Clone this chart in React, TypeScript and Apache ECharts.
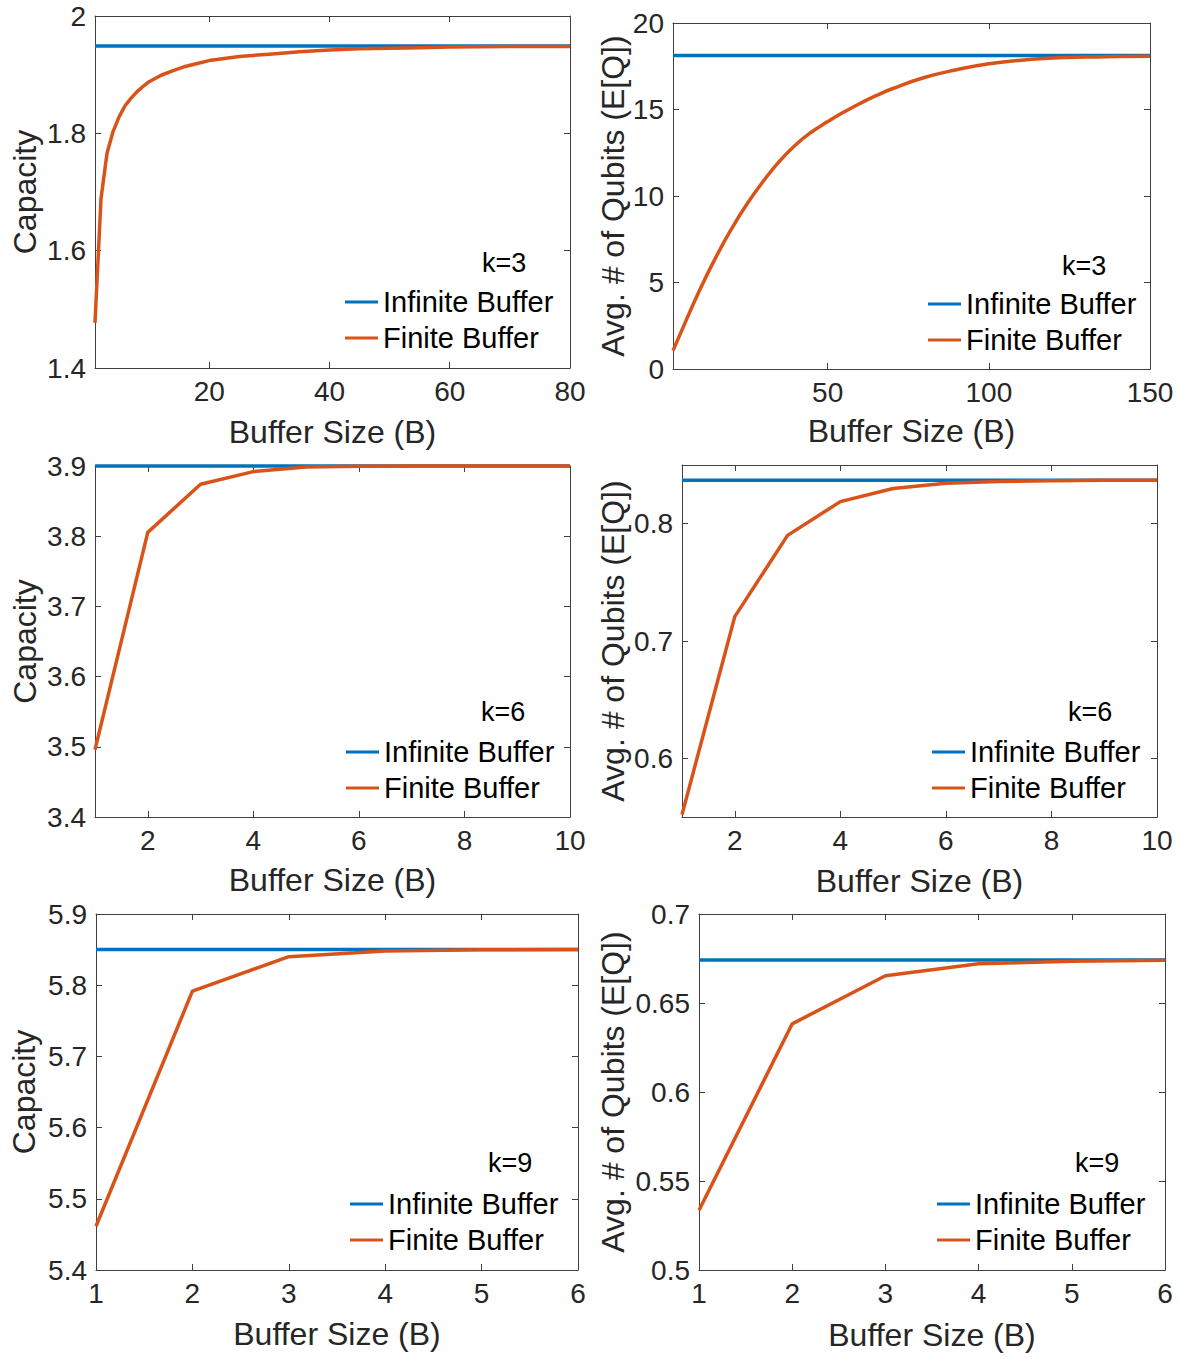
import React, { useEffect, useRef } from "react";
import * as echarts from "echarts";

const FONT = "'Liberation Sans', Arial, Helvetica, sans-serif";
const BLUE = "#0072BD";
const ORANGE = "#D95319";
const AXIS = "#404040";
const TEXT = "#262626";

const SERIES_NAMES = ["Infinite Buffer", "Finite Buffer"];
const X_LABEL = "Buffer Size (B)";
const Y_LABEL_CAP = "Capacity";
const Y_LABEL_Q = "Avg. # of Qubits (E[Q])";

// Panel 1: k=3, capacity
const p1B = [1, 2, 3, 4, 5, 6, 7, 8, 9, 10, 12, 14, 16, 18, 20, 25, 30, 35, 40, 45, 50, 55, 60, 70, 80];
const p1Finite = [1.477, 1.689, 1.766, 1.803, 1.828, 1.847, 1.86, 1.871, 1.88, 1.888, 1.899, 1.907, 1.914, 1.919, 1.924, 1.931, 1.935, 1.939, 1.942, 1.944, 1.945, 1.946, 1.947, 1.948, 1.948];
const p1Infinite = 1.949;
const p1XTicks = [20, 40, 60, 80];
const p1YTicks = [1.4, 1.6, 1.8, 2];

// Panel 2: k=3, avg qubits
const p2B = [2, 5, 10, 15, 20, 25, 30, 35, 40, 45, 50, 55, 60, 65, 70, 80, 90, 100, 110, 120, 130, 140, 150];
const p2Finite = [1.06, 2.35, 4.45, 6.35, 8.05, 9.55, 10.85, 12.0, 12.95, 13.7, 14.3, 14.85, 15.35, 15.8, 16.2, 16.85, 17.3, 17.65, 17.85, 17.97, 18.03, 18.06, 18.08];
const p2Infinite = 18.12;
const p2XTicks = [50, 100, 150];
const p2YTicks = [0, 5, 10, 15, 20];

// Panel 3: k=6, capacity
const p3B = [1, 2, 3, 4, 5, 6, 7, 8, 9, 10];
const p3Finite = [3.496, 3.8055, 3.874, 3.892, 3.8986, 3.8997, 3.9, 3.9, 3.9, 3.9];
const p3Infinite = 3.9;
const p3XTicks = [2, 4, 6, 8, 10];
const p3YTicks = [3.4, 3.5, 3.6, 3.7, 3.8, 3.9];

// Panel 4: k=6, avg qubits
const p4B = [1, 2, 3, 4, 5, 6, 7, 8, 9, 10];
const p4Finite = [0.552, 0.7208, 0.79, 0.8188, 0.83, 0.8345, 0.836, 0.8365, 0.837, 0.837];
const p4Infinite = 0.837;
const p4XTicks = [2, 4, 6, 8, 10];
const p4YTicks = [0.6, 0.7, 0.8];

// Panel 5: k=9, capacity
const p5B = [1, 2, 3, 4, 5, 6];
const p5Finite = [5.4614, 5.7917, 5.84, 5.848, 5.8497, 5.85];
const p5Infinite = 5.85;
const p5XTicks = [1, 2, 3, 4, 5, 6];
const p5YTicks = [5.4, 5.5, 5.6, 5.7, 5.8, 5.9];

// Panel 6: k=9, avg qubits
const p6B = [1, 2, 3, 4, 5, 6];
const p6Finite = [0.5336, 0.6383, 0.6653, 0.672, 0.6735, 0.674];
const p6Infinite = 0.6741;
const p6XTicks = [1, 2, 3, 4, 5, 6];
const p6YTicks = [0.5, 0.55, 0.6, 0.65, 0.7];

const panels = [
  { b: p1B, fin: p1Finite, inf: p1Infinite, xMin: 1, xMax: 80, yMin: 1.4, yMax: 2, xTicks: p1XTicks, yTicks: p1YTicks, yName: Y_LABEL_CAP, k: "k=3", smooth: false,
    grid: { left: 95, top: 16, width: 475, height: 352 }, yGap: 54, xGap: 48, legend: [345, 284], kPos: [482, 263] },
  { b: p2B, fin: p2Finite, inf: p2Infinite, xMin: 2, xMax: 150, yMin: 0, yMax: 20, xTicks: p2XTicks, yTicks: p2YTicks, yName: Y_LABEL_Q, k: "k=3", smooth: true,
    grid: { left: 673, top: 23, width: 477, height: 346 }, yGap: 44, xGap: 46, legend: [928, 286], kPos: [1062, 266] },
  { b: p3B, fin: p3Finite, inf: p3Infinite, xMin: 1, xMax: 10, yMin: 3.4, yMax: 3.9, xTicks: p3XTicks, yTicks: p3YTicks, yName: Y_LABEL_CAP, k: "k=6", smooth: false,
    grid: { left: 95, top: 466, width: 475, height: 351 }, yGap: 54, xGap: 47, legend: [346, 734], kPos: [481, 712] },
  { b: p4B, fin: p4Finite, inf: p4Infinite, xMin: 1, xMax: 10, yMin: 0.55, yMax: 0.85, xTicks: p4XTicks, yTicks: p4YTicks, yName: Y_LABEL_Q, k: "k=6", smooth: false,
    grid: { left: 682, top: 465, width: 475, height: 352 }, yGap: 53, xGap: 48, legend: [932, 734], kPos: [1068, 712] },
  { b: p5B, fin: p5Finite, inf: p5Infinite, xMin: 1, xMax: 6, yMin: 5.4, yMax: 5.9, xTicks: p5XTicks, yTicks: p5YTicks, yName: Y_LABEL_CAP, k: "k=9", smooth: false,
    grid: { left: 96, top: 914, width: 482, height: 356 }, yGap: 56, xGap: 48, legend: [350, 1186], kPos: [488, 1163] },
  { b: p6B, fin: p6Finite, inf: p6Infinite, xMin: 1, xMax: 6, yMin: 0.5, yMax: 0.7, xTicks: p6XTicks, yTicks: p6YTicks, yName: Y_LABEL_Q, k: "k=9", smooth: false,
    grid: { left: 699, top: 914, width: 466, height: 356 }, yGap: 70, xGap: 49, legend: [937, 1186], kPos: [1075, 1163] },
];

const fmt = (v: number) => String(parseFloat(Number(v).toFixed(4)));

export default function App() {
  const ref = useRef<HTMLDivElement>(null);
  useEffect(() => {
    document.body.style.margin = "0";
    if (!ref.current) return;
    const chart = echarts.init(ref.current, undefined, { renderer: "svg" });
    const grids: any[] = [];
    const xAxes: any[] = [];
    const yAxes: any[] = [];
    const series: any[] = [];
    const legends: any[] = [];
    const graphics: any[] = [];
    const axisLine = { show: true, onZero: false, lineStyle: { color: AXIS, width: 1 } };
    const tick = (vals: number[]) => ({ show: true, inside: true, length: 6, customValues: vals, lineStyle: { color: AXIS, width: 1 } });
    const labelStyle = { fontSize: 28, color: TEXT, fontFamily: FONT, formatter: fmt, margin: 9 };
    const nameStyle = { fontSize: 32, color: TEXT, fontFamily: FONT };
    panels.forEach((p, i) => {
      grids.push({ ...p.grid, containLabel: false });
      xAxes.push({
        type: "value", gridIndex: i, position: "bottom", min: p.xMin, max: p.xMax,
        axisLine, axisTick: tick(p.xTicks), splitLine: { show: false },
        axisLabel: { ...labelStyle, customValues: p.xTicks },
        name: X_LABEL, nameLocation: "middle", nameGap: p.xGap, nameTextStyle: nameStyle,
      });
      xAxes.push({
        type: "value", gridIndex: i, position: "top", min: p.xMin, max: p.xMax,
        axisLine, axisTick: tick(p.xTicks), splitLine: { show: false }, axisLabel: { show: false },
      });
      yAxes.push({
        type: "value", gridIndex: i, position: "left", min: p.yMin, max: p.yMax,
        axisLine, axisTick: tick(p.yTicks), splitLine: { show: false },
        axisLabel: { ...labelStyle, customValues: p.yTicks },
        name: p.yName, nameLocation: "middle", nameGap: p.yGap, nameTextStyle: nameStyle,
      });
      yAxes.push({
        type: "value", gridIndex: i, position: "right", min: p.yMin, max: p.yMax,
        axisLine, axisTick: tick(p.yTicks), splitLine: { show: false }, axisLabel: { show: false },
      });
      series.push({
        type: "line", name: SERIES_NAMES[0], xAxisIndex: 2 * i, yAxisIndex: 2 * i,
        data: [[p.b[0], p.inf], [p.b[p.b.length - 1], p.inf]],
        symbol: "none", showSymbol: false, clip: false, z: 2,
        lineStyle: { color: BLUE, width: 3.5 }, itemStyle: { color: BLUE },
      });
      series.push({
        type: "line", name: SERIES_NAMES[1], xAxisIndex: 2 * i, yAxisIndex: 2 * i,
        data: p.b.map((b, j) => [b, p.fin[j]]),
        symbol: "none", showSymbol: false, clip: false, z: 3,
        smooth: p.smooth,
        lineStyle: { color: ORANGE, width: 3.5 }, itemStyle: { color: ORANGE },
      });
      legends.push({
        left: p.legend[0], top: p.legend[1], orient: "vertical", data: SERIES_NAMES,
        icon: "rect", itemWidth: 33, itemHeight: 3, itemGap: 0, padding: 0, selectedMode: false,
        textStyle: { fontSize: 29, lineHeight: 36, color: "#000", fontFamily: FONT },
      });
      graphics.push({
        type: "text", x: p.kPos[0], y: p.kPos[1],
        style: { text: p.k, fontSize: 27, fontFamily: FONT, fill: "#000", verticalAlign: "middle", align: "left" },
      });
    });
    chart.setOption({
      animation: false,
      backgroundColor: "#ffffff",
      grid: grids,
      xAxis: xAxes,
      yAxis: yAxes,
      series,
      legend: legends,
      graphic: graphics,
    });
    return () => chart.dispose();
  }, []);
  return <div ref={ref} style={{ width: 1180, height: 1358 }} />;
}
